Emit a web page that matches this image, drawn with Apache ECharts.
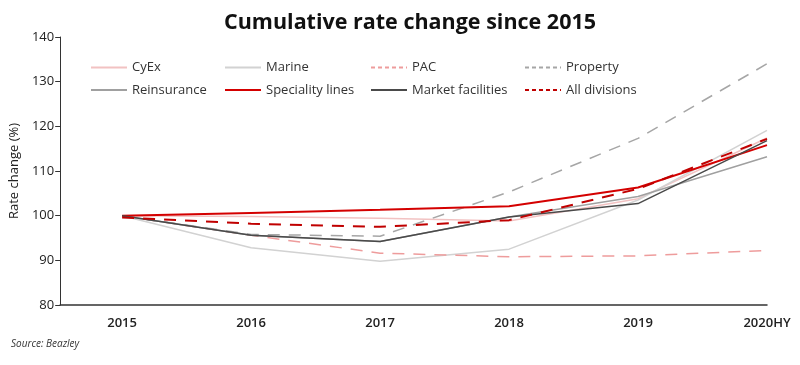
<!DOCTYPE html>
<html>
<head>
<meta charset="utf-8">
<script src="https://cdn.jsdelivr.net/npm/echarts@6/dist/echarts.min.js"></script>
<style>
html,body{margin:0;padding:0;background:#fff;}
#chart{width:800px;height:365px;}
</style>
</head>
<body>
<div id="chart"></div>
<script>
const categories = ['2015', '2016', '2017', '2018', '2019', '2020HY'];
const cyex        = [100, 99.8, 99.4, 98.8, 103.8, 117.4];
const marine      = [100, 92.8, 89.8, 92.5, 103.5, 119.1];
const pac         = [100, 95.6, 91.6, 90.8, 91.0, 92.2];
const property    = [100, 95.8, 95.4, 105.3, 117.3, 134.0];
const reinsurance = [100, 95.6, 94.2, 99.7, 104.3, 113.2];
const speciality  = [100, 100.6, 101.3, 102.1, 106.3, 115.8];
const market      = [100, 95.6, 94.2, 99.7, 102.7, 116.8];
const allDiv      = [99.6, 98.2, 97.5, 99.0, 106.0, 117.2];
const yTicks = [80, 90, 100, 110, 120, 130, 140];

const FONT = '"Open Sans", "Noto Sans", sans-serif';
const toPairs = arr => arr.map((v, i) => [i, v]);

function mk(name, data, color, width, dashed) {
  return {
    name: name, type: 'line', data: toPairs(data),
    symbol: 'none', smooth: false, z: 2,
    lineStyle: { color: color, width: width, type: dashed ? [12, 9] : 'solid' },
    itemStyle: { color: color }
  };
}

const series = [
  mk('CyEx', cyex, '#f2c2c2', 1.5, false),
  mk('Marine', marine, '#d2d2d2', 1.5, false),
  mk('PAC', pac, '#ee9c9c', 1.5, true),
  mk('Property', property, '#a6a6a6', 1.5, true),
  mk('Reinsurance', reinsurance, '#a0a0a0', 1.5, false),
  mk('Speciality lines', speciality, '#d40000', 2, false),
  mk('Market facilities', market, '#4a4a4a', 1.5, false),
  mk('All divisions', allDiv, '#c00000', 2, true)
];

function legendCol(left, names, dashedFlags) {
  return {
    orient: 'vertical', left: left, top: 61, padding: 0,
    itemWidth: 36, itemHeight: 14, itemGap: 9.5,
    textStyle: { fontSize: 13, color: '#333', fontFamily: FONT },
    itemStyle: { opacity: 0 },
    data: names.map((n, i) => ({
      name: n,
      itemStyle: { opacity: 0 },
      lineStyle: dashedFlags[i] ? { type: [4, 3], width: 2 } : { width: 2 }
    }))
  };
}

const chart = echarts.init(document.getElementById('chart'), null, { renderer: 'canvas' });
chart.setOption({
  animation: false,
  backgroundColor: '#fff',
  textStyle: { fontFamily: FONT },
  title: [
    { text: 'Cumulative rate change since 2015', left: 219, top: 7,
      textStyle: { fontSize: 21.5, fontWeight: 'bold', color: '#111', fontFamily: FONT } },
    { text: 'Source: Beazley', left: 6, top: 334,
      textStyle: { fontSize: 10, fontStyle: 'italic', fontWeight: 'normal', color: '#333', fontFamily: FONT } }
  ],
  legend: [
    legendCol(90, ['CyEx', 'Reinsurance'], [false, false]),
    legendCol(224, ['Marine', 'Speciality lines'], [false, false]),
    legendCol(370, ['PAC', 'Market facilities'], [true, false]),
    legendCol(524, ['Property', 'All divisions'], [true, true])
  ],
  grid: { left: 60, right: 33, top: 37, bottom: 60, containLabel: false },
  xAxis: {
    type: 'value', min: -0.48, max: 5,
    axisLine: { show: true, onZero: false, lineStyle: { color: '#333', width: 1.5 } },
    axisTick: { show: false },
    splitLine: { show: false },
    axisLabel: {
      customValues: categories.map((c, i) => i),
      formatter: v => categories[Math.round(v)] || '',
      fontSize: 13, fontWeight: 600, color: '#222', margin: 12, fontFamily: FONT
    }
  },
  yAxis: {
    type: 'value', min: yTicks[0], max: yTicks[yTicks.length - 1], interval: 10,
    name: 'Rate change (%)', nameLocation: 'middle', nameGap: 38, nameRotate: 90,
    nameTextStyle: { fontSize: 13, color: '#222', fontFamily: FONT },
    axisLine: { show: true, onZero: false, lineStyle: { color: '#333', width: 1 } },
    axisTick: { show: true, length: 5, lineStyle: { color: '#333' } },
    splitLine: { show: false },
    axisLabel: { fontSize: 13, color: '#222', margin: 6, fontFamily: FONT }
  },
  series: series
});
</script>
</body>
</html>
